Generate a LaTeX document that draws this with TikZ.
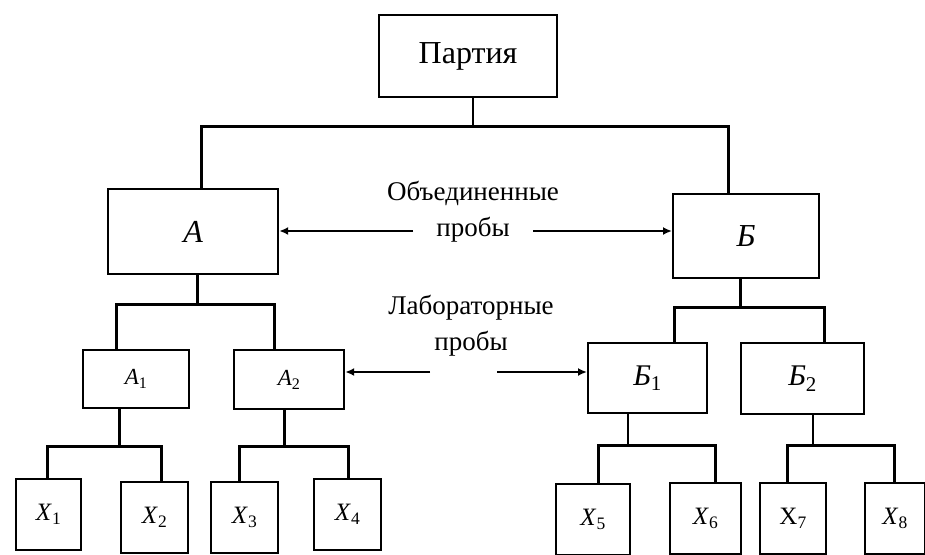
\documentclass[tikz,border=0pt]{standalone}
\usepackage{fontspec}
\setmainfont{Liberation Serif}
\usetikzlibrary{arrows.meta}
\begin{document}
\begin{tikzpicture}[x=1pt,y=-1pt,
  box/.style={draw,line width=2.2pt,inner sep=0pt,anchor=north west},
  thk/.style={line width=3pt},
  thn/.style={line width=1.3pt},
  arr/.style={line width=2.4pt,-{Latex[length=9pt,width=8pt]}},
  lbl/.style={font=\fontsize{27}{36}\selectfont,align=center,inner sep=0pt}]
\useasboundingbox (0,0) rectangle (925,554);
% boxes
\node[box,minimum width=178pt,minimum height=82pt,font=\fontsize{32}{36}\selectfont] (P) at (378,14) {Партия};
\node[box,minimum width=170pt,minimum height=85pt,font=\fontsize{32}{36}\selectfont\itshape] (A) at (107,188) {A};
\node[box,minimum width=146pt,minimum height=84pt,font=\fontsize{32}{36}\selectfont\itshape] (B) at (672,193) {Б};
\node[box,minimum width=106pt,minimum height=58pt,font=\fontsize{23}{26}\selectfont] (A1) at (82,349) {\textit{A}\textsubscript{1}};
\node[box,minimum width=110pt,minimum height=59pt,font=\fontsize{23}{26}\selectfont] (A2) at (233,349) {\textit{A}\textsubscript{2}};
\node[box,minimum width=119pt,minimum height=70pt,font=\fontsize{30}{34}\selectfont] (B1) at (587,342) {\textit{Б}\textsubscript{1}};
\node[box,minimum width=123pt,minimum height=71pt,font=\fontsize{30}{34}\selectfont] (B2) at (740,342) {\textit{Б}\textsubscript{2}};
\tikzset{xbox/.style={box,minimum height=71pt,font=\fontsize{25}{28}\selectfont}}
\node[xbox,minimum width=65pt] (X1) at (15,478) {\textit{X}\textsubscript{1}};
\node[xbox,minimum width=67pt] (X2) at (120,481) {\textit{X}\textsubscript{2}};
\node[xbox,minimum width=67pt] (X3) at (210,481) {\textit{X}\textsubscript{3}};
\node[xbox,minimum width=67pt] (X4) at (313,478) {\textit{X}\textsubscript{4}};
\node[xbox,minimum width=74pt] (X5) at (555,483) {\textit{X}\textsubscript{5}};
\node[xbox,minimum width=71pt] (X6) at (669,482) {\textit{X}\textsubscript{6}};
\node[xbox,minimum width=66pt] (X7) at (759,482) {X\textsubscript{7}};
\node[xbox,minimum width=60pt] (X8) at (864,482) {\textit{X}\textsubscript{8}};
% labels
\node[lbl] (L1) at (473,212) {Объединенные\\пробы};
\node[lbl] (L2) at (471,326) {Лабораторные\\пробы};
% top tree
\coordinate (bus0) at (473,126);
\draw[thn] (P.south -| bus0) -- (bus0);
\draw[thk] ([xshift=8pt]A.north) |- (bus0) -| ([xshift=-18pt]B.north);
% A subtree
\coordinate (busA) at (197,304);
\draw[thk] (A.south -| busA) -- (busA);
\draw[thk] ([xshift=-20pt]A1.north) |- (busA) -| ([xshift=-15pt]A2.north);
\coordinate (busA1) at (119,446);
\coordinate (busA2) at (284,446);
\draw[thk] (A1.south -| busA1) -- (busA1);
\draw[thk] ([xshift=-1.5pt]X1.north) |- (busA1) -| ([xshift=6.5pt]X2.north);
\draw[thk] (A2.south -| busA2) -- (busA2);
\draw[thk] ([xshift=-5.5pt]X3.north) |- (busA2) -| ([xshift=0.5pt]X4.north);
% B subtree
\coordinate (busB) at (740,307);
\draw[thk] (B.south -| busB) -- (busB);
\draw[thk] ([xshift=26.5pt]B1.north) |- (busB) -| ([xshift=21.5pt]B2.north);
\coordinate (busB1) at (628,445);
\coordinate (busB2) at (813,445);
\draw[thn] (B1.south -| busB1) -- (busB1);
\draw[thk] ([xshift=5pt]X5.north) |- (busB1) -| ([xshift=9.5pt]X6.north);
\draw[thn] (B2.south -| busB2) -- (busB2);
\draw[thk] ([xshift=-6pt]X7.north) |- (busB2) -| ([xshift=-1pt]X8.north);
% arrows
\coordinate (a1s) at (413,231);
\coordinate (a2s) at (533,231);
\draw[arr] (a1s) -- (a1s -| A.east);
\draw[arr] (a2s) -- (a2s -| B.west);
\coordinate (b1s) at (430,372);
\coordinate (b2s) at (497,372);
\draw[arr] (b1s) -- (b1s -| A2.east);
\draw[arr] (b2s) -- (b2s -| B1.west);
\end{tikzpicture}
\end{document}
